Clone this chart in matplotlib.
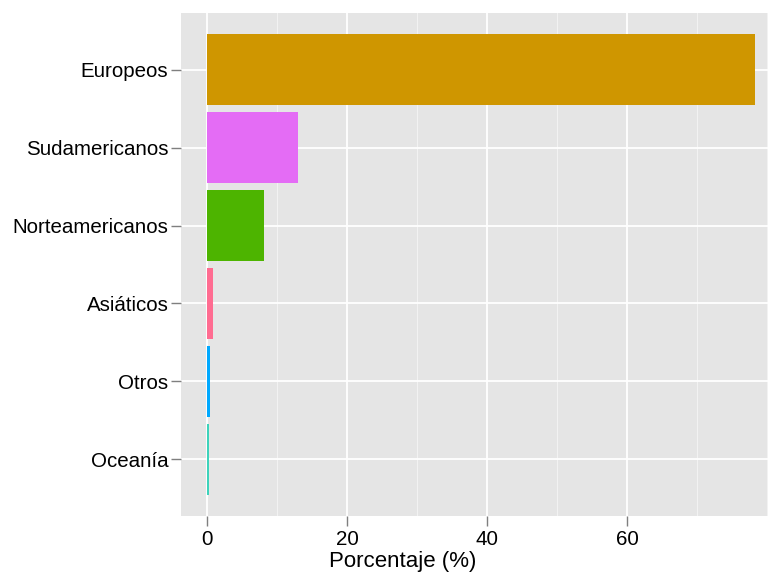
import matplotlib
matplotlib.use("Agg")
import matplotlib.pyplot as plt
from matplotlib.ticker import MultipleLocator

categories = ["Oceanía", "Otros", "Asiáticos", "Norteamericanos", "Sudamericanos", "Europeos"]
values = [0.25, 0.5, 0.9, 8.2, 13.0, 78.3]
colors = ["#3DD3BB", "#00A9FF", "#FF6C91", "#4DB400", "#E46CF5", "#CF9600"]
xticks = [0, 20, 40, 60]

plt.rcParams['font.family'] = ['Liberation Sans', 'DejaVu Sans']

W, H = 769, 572
fig = plt.figure(figsize=(W / 100, H / 100), dpi=100)
left, right, top, bottom = 181, 768, 13, 516
ax = fig.add_axes([left / W, 1 - bottom / H, (right - left) / W, (bottom - top) / H])
ax.set_facecolor("#E5E5E5")

pos = list(range(1, len(categories) + 1))
ax.barh(pos, values, height=0.9, color=colors, zorder=3)

ax.set_xlim(-3.7, 80.1)
ax.set_ylim(0.275, 6.725)
ax.set_xticks(xticks)
ax.xaxis.set_minor_locator(MultipleLocator(10))
ax.set_yticks(pos)
ax.set_yticklabels(categories)

ax.grid(which="major", color="white", linewidth=1.3, zorder=1)
ax.grid(which="minor", axis="x", color="#F2F2F2", linewidth=0.8, zorder=1)
ax.set_axisbelow(True)
for s in ax.spines.values():
    s.set_visible(False)

ax.tick_params(axis="both", which="major", length=7, width=1, color="#7F7F7F",
               labelsize=14.8, labelcolor="black")
ax.tick_params(axis="y", pad=2)
ax.tick_params(axis="x", pad=3)
ax.tick_params(which="minor", length=0)

fig.text(403 / W, 1 - 561 / H, "Porcentaje (%)", ha="center", va="center", fontsize=16)

fig.savefig("out.png", dpi=100)
